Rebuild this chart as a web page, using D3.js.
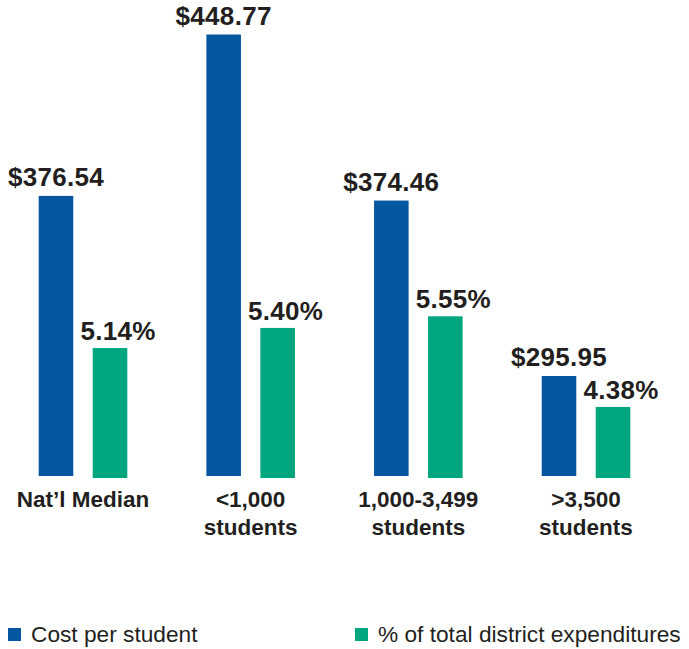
<!DOCTYPE html>
<html>
<head>
<meta charset="utf-8">
<script src="https://cdn.jsdelivr.net/npm/d3@7.9.0/dist/d3.min.js"></script>
<style>
  body { margin: 0; background: #fff; }
  svg { display: block; font-family: "Liberation Sans", Arial, sans-serif; }
  .val { font-weight: bold; font-size: 26px; fill: #231f20; letter-spacing: 0.3px; }
  .cat { font-weight: bold; font-size: 22.5px; fill: #231f20; }
  .leg { font-size: 22.7px; fill: #231f20; }
</style>
</head>
<body>
<svg width="689" height="649"></svg>
<script>
const groups = ["Nat\u2019l Median", "<1,000 students", "1,000-3,499 students", ">3,500 students"];
const groupLines = [["Nat\u2019l Median"], ["<1,000", "students"], ["1,000-3,499", "students"], [">3,500", "students"]];
const costPerStudent = [376.54, 448.77, 374.46, 295.95];
const pctExpenditures = [5.14, 5.40, 5.55, 4.38];
const costLabels = ["$376.54", "$448.77", "$374.46", "$295.95"];
const pctLabels = ["5.14%", "5.40%", "5.55%", "4.38%"];
const seriesNames = ["Cost per student", "% of total district expenditures"];

const colors = {
  cost: "#05579f",
  pct: "#00a67e"
};

const svg = d3.select("svg");

// group centres
const x = d3.scalePoint().domain(groups).range([83, 586]);
const x1 = d3.scaleBand().domain(["cost", "pct"]).range([-44.3, 44.3]).paddingInner(0.36);

// each series has its own (truncated) scale, as in the original graphic
const yCost = d3.scaleLinear().domain([251.2, 448.77]).range([476, 34.5]);
const yPct = d3.scaleLinear().domain([3.463, 5.55]).range([478, 316.3]);

const data = groups.map((g, i) => ({
  group: g,
  lines: groupLines[i],
  cost: costPerStudent[i],
  pct: pctExpenditures[i],
  costLabel: costLabels[i],
  pctLabel: pctLabels[i]
}));

const g = svg.append("g");

// blue bars
g.selectAll(".bar.cost").data(data).join("rect")
  .attr("class", "bar cost")
  .attr("x", d => x(d.group) + x1("cost"))
  .attr("width", x1.bandwidth())
  .attr("y", d => yCost(d.cost))
  .attr("height", d => yCost.range()[0] - yCost(d.cost))
  .attr("fill", colors.cost);

// green bars
g.selectAll(".bar.pct").data(data).join("rect")
  .attr("class", "bar pct")
  .attr("x", d => x(d.group) + x1("pct"))
  .attr("width", x1.bandwidth())
  .attr("y", d => yPct(d.pct))
  .attr("height", d => yPct.range()[0] - yPct(d.pct))
  .attr("fill", colors.pct);

// value labels
g.selectAll(".val.cost").data(data).join("text")
  .attr("class", "val cost")
  .attr("text-anchor", "middle")
  .attr("x", d => x(d.group) + x1("cost") + x1.bandwidth() / 2)
  .attr("y", d => yCost(d.cost) - 10)
  .text(d => d.costLabel);

g.selectAll(".val.pct").data(data).join("text")
  .attr("class", "val pct")
  .attr("text-anchor", "middle")
  .attr("x", d => x(d.group) + x1("pct") + x1.bandwidth() / 2 + 8)
  .attr("y", d => yPct(d.pct) - 8)
  .text(d => d.pctLabel);

// category labels
const cats = g.selectAll(".cat").data(data).join("text")
  .attr("class", "cat")
  .attr("text-anchor", "middle")
  .attr("x", d => x(d.group))
  .attr("y", 507);

cats.selectAll("tspan").data(d => d.lines.map(l => ({l, cx: x(d.group)}))).join("tspan")
  .attr("x", d => d.cx)
  .attr("dy", (d, i) => i === 0 ? 0 : 28)
  .text(d => d.l);

// legend
const legendX = [8, 355];
const legend = svg.selectAll(".legend").data(seriesNames).join("g")
  .attr("class", "legend")
  .attr("transform", (d, i) => `translate(${legendX[i]},628)`);

legend.append("rect")
  .attr("width", 13)
  .attr("height", 13)
  .attr("fill", (d, i) => i === 0 ? colors.cost : colors.pct);

legend.append("text")
  .attr("class", "leg")
  .attr("x", 23)
  .attr("y", 14)
  .text(d => d);
</script>
</body>
</html>
